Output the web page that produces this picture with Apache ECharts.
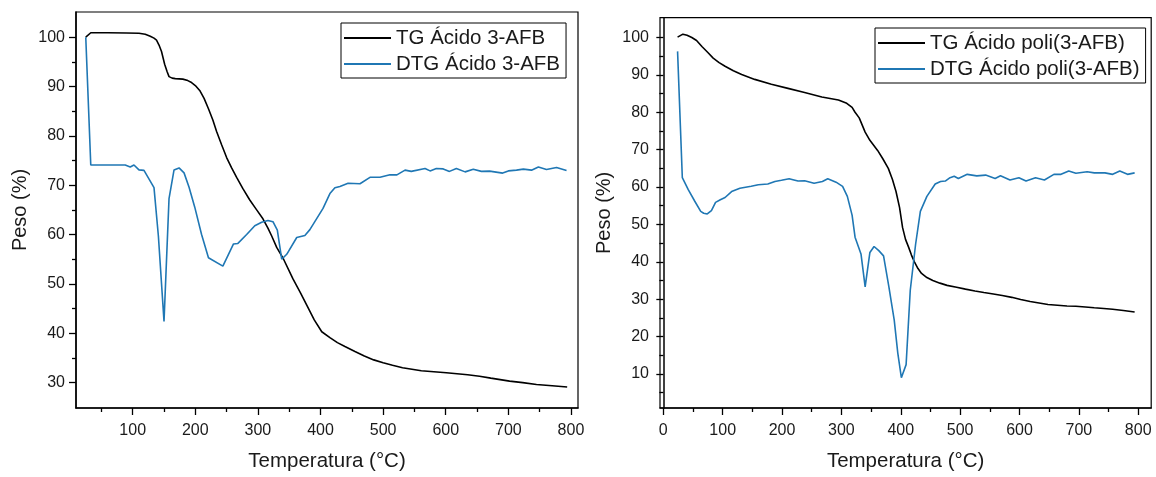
<!DOCTYPE html>
<html><head><meta charset="utf-8">
<script src="https://cdn.jsdelivr.net/npm/echarts@6/dist/echarts.min.js"></script>
<style>html,body{margin:0;padding:0;background:#fff}#c{width:1156px;height:477px}</style>
</head><body><div id="c"></div><script>
// ---------- DATA ----------
const tgAcidT = [25,33,60,90,110,120,128,134,138,142,146,151,155,158,163,168,180,188,194,200,207,214,221,228,234,242,250,258,266,276,287,298,308,316,322,330,341,356,368,378,390,402,415,427,439,455,470,485,500,515,531,546,561,581,601,618,635,654,672,687,702,723,745,770,794];
const tgAcidV = [100.0,100.9,100.9,100.85,100.8,100.6,100.2,99.8,99.4,98.4,97.1,94.5,93.0,92.0,91.7,91.6,91.5,91.2,90.8,90.2,89.2,87.6,85.5,83.2,80.9,78.2,75.6,73.5,71.6,69.3,67.0,65.0,63.2,61.3,59.7,57.4,55.0,51.0,48.2,45.7,42.7,40.3,39.1,38.1,37.3,36.3,35.4,34.6,34.0,33.5,33.0,32.7,32.4,32.2,32.0,31.8,31.6,31.3,30.9,30.6,30.3,30.0,29.6,29.35,29.1];

const dtgAcidT = [25,33,88,96,102,110,118,134,141,150,158,166,174,182,190,199,210,221,244,253,261,268,282,295,306,316,324,331,338,346,362,375,383,404,415,423,431,444,463,479,495,511,522,535,545,567,575,585,596,606,617,631,644,657,670,691,700,713,724,737,748,761,777,793];
const dtgAcidV = [100.0,74.1,74.1,73.7,74.1,73.1,73.0,69.5,59.7,42.4,67.3,73.1,73.5,72.5,69.6,65.6,60.0,55.3,53.6,56.0,58.1,58.2,60.0,61.8,62.5,62.85,62.6,60.9,55.0,56.0,59.4,59.8,61.0,65.3,68.3,69.5,69.75,70.4,70.3,71.6,71.6,72.1,72.1,73.05,72.8,73.4,72.9,73.4,73.3,72.8,73.4,72.7,73.25,72.8,72.85,72.45,72.9,73.05,73.25,73.05,73.7,73.2,73.6,73.0];

const tgPoliT = [24,33,40,48,56,65,75,84,94,104,118,132,154,182,210,238,267,295,309,318,323,330,340,348,361,370,379,386,392,398,403,408,413,418,423,429,435,444,454,466,478,494,509,525,540,556,571,587,602,618,633,648,664,680,695,711,726,742,757,775,794];
const tgPoliV = [100.1,100.9,100.6,100.0,99.2,97.6,96.0,94.5,93.3,92.3,91.1,90.1,88.8,87.5,86.4,85.3,84.1,83.3,82.4,81.3,80.0,78.5,74.7,72.5,69.8,67.5,65.0,62.0,58.8,54.5,49.2,46.0,44.0,41.8,40.0,38.2,36.9,35.8,35.0,34.3,33.7,33.2,32.7,32.2,31.8,31.4,31.0,30.5,29.9,29.4,29.0,28.6,28.4,28.2,28.1,27.9,27.7,27.5,27.3,27.0,26.6];

const dtgPoliT = [24,32,42,53,63,68,74,81,88,96,104,115,129,148,160,176,188,199,212,220,227,238,254,268,277,291,302,310,318,323,333,340,348,355,363,371,380,389,395,401,409,416,425,433,444,458,467,475,483,490,497,512,528,543,559,568,584,599,611,627,642,658,670,683,695,714,726,744,757,769,782,794];
const dtgPoliV = [96.3,62.5,59.3,56.2,53.5,53.0,52.8,53.7,55.9,56.6,57.2,58.8,59.7,60.2,60.6,60.8,61.5,61.8,62.2,61.9,61.6,61.7,61.0,61.5,62.2,61.3,60.2,57.5,52.5,46.6,42.1,33.3,42.5,44.1,43.0,41.6,33.3,24.4,15.6,9.0,12.5,32.4,44.7,53.5,57.5,60.8,61.5,61.6,62.5,62.9,62.3,63.4,63.0,63.2,62.3,63.0,61.9,62.5,61.6,62.5,61.9,63.4,63.4,64.3,63.7,64.1,63.8,63.8,63.4,64.3,63.4,63.8];

const xMajor = [100,200,300,400,500,600,700,800];
const xMinorLeft = [50,150,250,350,450,550,650,750];
const xMajorRight = [0,100,200,300,400,500,600,700,800];
const xMinorRight = [50,150,250,350,450,550,650,750];
const yMajorLeft = [30,40,50,60,70,80,90,100];
const yMinorLeft = [35,45,55,65,75,85,95];
const yMajorRight = [10,20,30,40,50,60,70,80,90,100];
const yMinorRight = [5,15,25,35,45,55,65,75,85,95];

const seriesNames = ['TG Ácido 3-AFB','DTG Ácido 3-AFB','TG Ácido poli(3-AFB)','DTG Ácido poli(3-AFB)'];
const xTitle = 'Temperatura (°C)';
const yTitle = 'Peso (%)';

// ---------- CHART ----------
const FONT = "'Liberation Sans', Arial, sans-serif";
const TXT = '#1a1a1a';
const BLUE = '#1f77b4';
const pair = (t, v) => t.map((x, i) => [x, v[i]]);

function xAxes(g, min, max, majors, minors) {
  return [{
    type: 'value', gridIndex: g, min, max, position: 'bottom',
    axisLine: {show: true, lineStyle: {color: '#000', width: 1.5}},
    axisTick: {show: true, inside: false, length: 7, customValues: majors, lineStyle: {color: '#000', width: 1.3}},
    axisLabel: {show: true, customValues: majors, margin: 15, fontSize: 16, color: TXT, fontFamily: FONT},
    splitLine: {show: false},
    name: xTitle, nameLocation: 'middle', nameGap: 43,
    nameTextStyle: {fontSize: 20.5, color: TXT, fontFamily: FONT}
  }, {
    type: 'value', gridIndex: g, min, max, position: 'bottom',
    axisLine: {show: false},
    axisTick: {show: true, inside: false, length: 4, customValues: minors, lineStyle: {color: '#000', width: 1.3}},
    axisLabel: {show: false}, splitLine: {show: false}
  }];
}
function yAxes(g, min, max, majors, minors) {
  return [{
    type: 'value', gridIndex: g, min, max, position: 'left',
    axisLine: {show: true, lineStyle: {color: '#000', width: 1.5}},
    axisTick: {show: true, inside: false, length: 7, customValues: majors, lineStyle: {color: '#000', width: 1.3}},
    axisLabel: {show: true, customValues: majors, margin: 11, fontSize: 16, color: TXT, fontFamily: FONT},
    splitLine: {show: false},
    name: yTitle, nameLocation: 'middle', nameGap: 46, nameRotate: 90,
    nameTextStyle: {fontSize: 20, color: TXT, fontFamily: FONT}
  }, {
    type: 'value', gridIndex: g, min, max, position: 'left',
    axisLine: {show: false},
    axisTick: {show: true, inside: false, length: 4, customValues: minors, lineStyle: {color: '#000', width: 1.3}},
    axisLabel: {show: false}, splitLine: {show: false}
  }];
}
function legend(names, left, top) {
  return {
    data: names, orient: 'vertical', left, top,
    backgroundColor: '#fff', borderColor: '#000', borderWidth: 1, borderRadius: 0,
    padding: [3, 6, 2, 3], itemGap: 2, itemWidth: 47, itemHeight: 2, icon: 'rect',
    textStyle: {fontSize: 20.5, lineHeight: 24, color: TXT, fontFamily: FONT},
    selectedMode: false
  };
}

const chart = echarts.init(document.getElementById('c'), null, {renderer: 'canvas'});
chart.setOption({
  animation: false,
  backgroundColor: '#fff',
  grid: [
    {left: 76, top: 12, width: 502, height: 403.5, show: true, borderColor: '#000', borderWidth: 1.2, containLabel: false},
    {left: 660, top: 17.7, width: 491.2, height: 395.3, show: true, borderColor: '#000', borderWidth: 1.2, containLabel: false}
  ],
  xAxis: [...xAxes(0, 9.4, 811.3, xMajor, xMinorLeft), ...xAxes(1, -5.6, 821.9, xMajorRight, xMinorRight)],
  yAxis: [...yAxes(0, 24.85, 105.1, yMajorLeft, yMinorLeft), ...yAxes(1, 0.9, 105.3, yMajorRight, yMinorRight)],
  legend: [legend([seriesNames[0], seriesNames[1]], 341, 23), legend([seriesNames[2], seriesNames[3]], 875, 28)],
  series: [
    {name: seriesNames[0], type: 'line', xAxisIndex: 0, yAxisIndex: 0, data: pair(tgAcidT, tgAcidV), symbol: 'none', smooth: false, lineStyle: {color: '#000', width: 1.6}, itemStyle: {color: '#000'}},
    {name: seriesNames[1], type: 'line', xAxisIndex: 0, yAxisIndex: 0, data: pair(dtgAcidT, dtgAcidV), symbol: 'none', smooth: false, lineStyle: {color: BLUE, width: 1.6}, itemStyle: {color: BLUE}},
    {name: seriesNames[2], type: 'line', xAxisIndex: 2, yAxisIndex: 2, data: pair(tgPoliT, tgPoliV), symbol: 'none', smooth: false, lineStyle: {color: '#000', width: 1.6}, itemStyle: {color: '#000'}},
    {name: seriesNames[3], type: 'line', xAxisIndex: 2, yAxisIndex: 2, data: pair(dtgPoliT, dtgPoliV), symbol: 'none', smooth: false, lineStyle: {color: BLUE, width: 1.6}, itemStyle: {color: BLUE}}
  ]
});
</script></body></html>
